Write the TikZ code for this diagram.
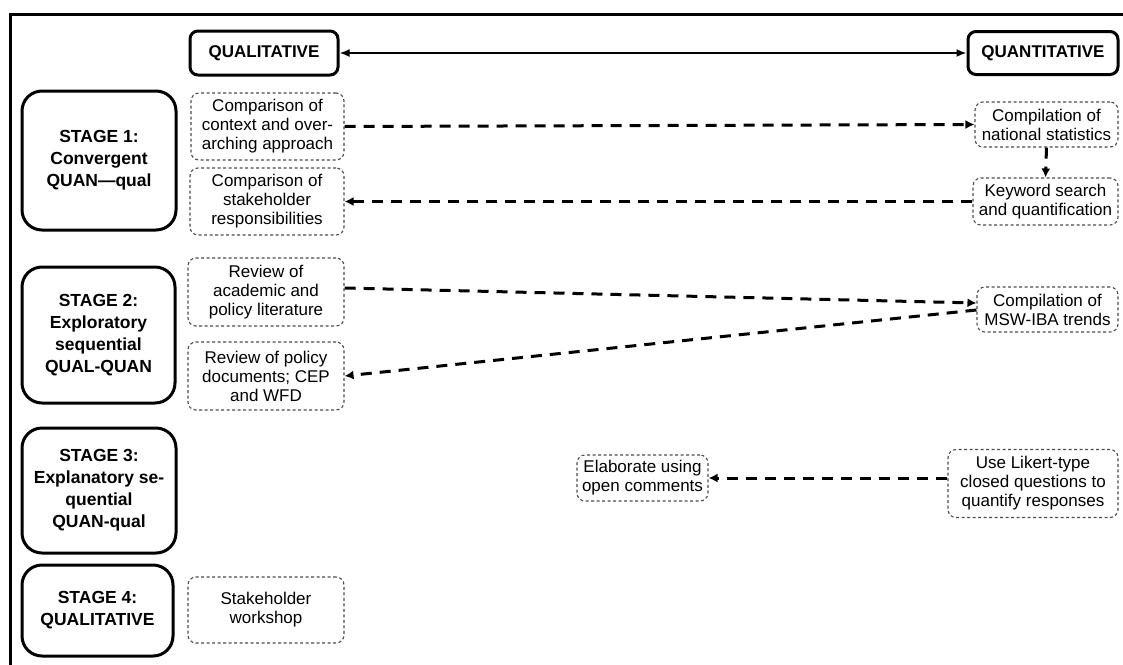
\documentclass[tikz,border=0pt]{standalone}
\usepackage{fontspec}
\setmainfont{Liberation Sans}
\usetikzlibrary{arrows.meta}
\begin{document}
\begin{tikzpicture}[x=1pt,y=-1pt,
  stagebox/.style={draw=black, line width=3pt, rounded corners=20pt, align=center,
    font=\fontsize{17.5}{22}\selectfont\bfseries, inner sep=0pt},
  headbox/.style={draw=black, line width=3pt, rounded corners=8pt, align=center,
    font=\fontsize{17}{20}\selectfont\bfseries, inner sep=0pt},
  taskbox/.style={draw=black!70, line width=1.1pt, dash pattern=on 3pt off 2.5pt,
    rounded corners=8pt, align=center, font=\fontsize{17}{19}\selectfont, inner sep=0pt},
  flow/.style={line width=3pt, dash pattern=on 11pt off 8pt, -{Latex[length=9pt,width=9pt]}},
  span/.style={line width=1.8pt, {Latex[length=10pt,width=8pt]}-{Latex[length=10pt,width=8pt]}}
]
\useasboundingbox (0,0) rectangle (1123,664);
% outer frame, open on the right and at the bottom
\draw[line width=3pt] (10,680) -- (10,14) -- (1130,14);

% column headers
\node[headbox, minimum width=148pt, minimum height=44pt] (qualh) at (264,53) {QUALITATIVE};
\node[headbox, minimum width=150pt, minimum height=43pt] (quanh) at (1043,53) {QUANTITATIVE};
\draw[span] (qualh.east) -- (quanh.west);

% stage boxes
\node[stagebox, minimum width=154pt, minimum height=139pt] (s1) at (99,160.5) {STAGE 1:\\Convergent\\QUAN—qual};
\node[stagebox, minimum width=153pt, minimum height=136pt] (s2) at (98.5,335) {STAGE 2:\\Exploratory\\sequential\\QUAL-QUAN};
\node[stagebox, minimum width=154pt, minimum height=125pt] (s3) at (99,490.5) {STAGE 3:\\Explanatory se-\\quential\\QUAN-qual};
\node[stagebox, minimum width=151pt, minimum height=91pt] (s4) at (97.5,610.5) {STAGE 4:\\QUALITATIVE};

% qualitative tasks
\node[taskbox, minimum width=153pt, minimum height=67pt] (c1) at (267.5,126.5) {Comparison of\\context and over-\\arching approach};
\node[taskbox, minimum width=154pt, minimum height=67pt] (c2) at (267,201.5) {Comparison of\\stakeholder\\responsibilities};
\node[taskbox, minimum width=156pt, minimum height=68pt] (r1) at (266,292) {Review of\\academic and\\policy literature};
\node[taskbox, minimum width=156pt, minimum height=68pt] (r2) at (266,376) {Review of policy\\documents; CEP\\and WFD};
\node[taskbox, minimum width=156pt, minimum height=66pt] (sw) at (266,610) {Stakeholder\\workshop};
\node[taskbox, minimum width=131pt, minimum height=46pt] (el) at (642.5,478) {Elaborate using\\open comments};

% quantitative tasks
\node[taskbox, minimum width=143pt, minimum height=45pt] (ns) at (1046.5,124.5) {Compilation of\\national statistics};
\node[taskbox, minimum width=145pt, minimum height=47pt] (kw) at (1045.5,201.5) {Keyword search\\and quantification};
\node[taskbox, minimum width=141pt, minimum height=45pt] (msw) at (1047.5,309.5) {Compilation of\\MSW-IBA trends};
\node[taskbox, minimum width=170pt, minimum height=68pt] (lk) at (1033,483.5) {Use Likert-type\\closed questions to\\quantify responses};

% flows between the tasks
\draw[flow] (c1.east) -- (ns.west);
\draw[flow] (ns.south) -- (kw.north);
\draw[flow] (kw.west) -- (c2.east);
\draw[flow] ([yshift=4pt]r1.east) -- ([yshift=6.5pt]msw.west);
\draw[flow] ([yshift=-0.5pt]msw.west) -- (r2.east);
\draw[flow] (lk.west |- el.east) -- (el.east);
\end{tikzpicture}
\end{document}
